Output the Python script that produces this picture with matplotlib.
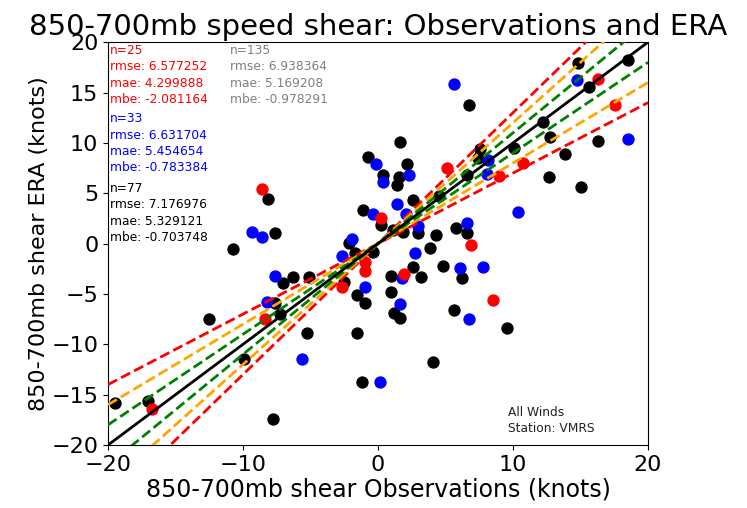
import numpy as np
import matplotlib
matplotlib.use("Agg")
import matplotlib.pyplot as plt

# Observed vs ERA 850-700mb speed shear (knots), split into three groups
red_obs = [-8.57, -0.96, -0.96, -2.64, -8.37, -16.76, 0.22, 5.09, 8.96, 10.76,
           16.32, 17.56, 1.95, 6.9, 8.54]
red_era = [5.38, -1.81, -2.70, -4.29, -7.49, -16.45, 2.50, 7.46, 6.70, 8.02,
           16.39, 13.74, -3.03, -0.15, -5.60]

blue_obs = [-9.33, -8.59, -0.15, -0.39, -1.95, 5.65, 0.39, 2.32, 1.39, 2.07,
            2.94, 6.61, 10.35, 8.17, 8.05, 14.76, 18.50, -7.63, -2.69, -0.96,
            -5.61, 0.15, -8.24, 2.74, 1.80, 1.63, 6.07, 7.80, 6.76]
blue_era = [1.11, 0.67, 7.89, 2.90, 0.45, 15.82, 6.13, 6.80, 3.89, 2.93,
            1.79, 2.00, 3.10, 8.28, 6.87, 16.22, 10.40, -3.19, -1.21, -4.29,
            -11.46, -13.77, -5.77, -0.91, -3.39, -6.03, -2.40, -2.36, -7.49]

black_obs = [-8.17, -7.63, -10.72, -7.01, -6.27, -5.09, -2.13, -1.70, -0.39, -2.52,
             -1.58, -0.96, -5.28, -1.58, -1.16, -7.80, -12.50, -7.63, -7.26, -9.90,
             -19.48, -17.06, -0.72, -1.09, 6.76, 1.63, 2.17, 0.39, 1.58, 1.39,
             2.57, 0.22, 1.87, 2.94, 4.27, 5.78, 6.61, 15.01, 12.69, 13.83,
             16.32, 12.74, 12.24, 10.10, 6.61, 7.43, 7.56, 4.54, 15.61, 14.84,
             18.50, 0.94, 0.94, 1.19, 1.63, 2.57, 3.16, 3.85, 4.84, 6.20,
             5.63, 4.10, 9.53, 1.09]
black_era = [4.38, 1.07, -0.58, -3.95, -3.29, -3.35, 0.02, -0.97, -0.81, -3.85,
             -5.11, -5.93, -8.85, -8.85, -13.77, -17.44, -7.46, -5.87, -6.99, -11.46,
             -15.85, -15.60, 8.61, 3.32, 13.81, 10.10, 7.89, 6.80, 6.57, 5.80,
             4.32, 1.84, 1.17, 1.01, 0.84, 1.57, 1.07, 5.63, 6.63, 8.88,
             10.20, 10.60, 12.08, 9.50, 6.80, 8.45, 9.35, 4.71, 15.50, 17.94,
             18.20, -3.19, -4.84, -6.87, -7.36, -2.30, -3.29, -0.48, -2.20, -3.39,
             -6.60, -11.73, -8.35, 1.34]

# Reference slopes: 1:1 line plus +/-10, 20, 30 % envelopes
envelope_slopes = [(0.9, 1.1, "green"), (0.8, 1.2, "orange"), (0.7, 1.3, "red")]

stats_red = ["n=25", "rmse: 6.577252", "mae: 4.299888", "mbe: -2.081164"]
stats_blue = ["n=33", "rmse: 6.631704", "mae: 5.454654", "mbe: -0.783384"]
stats_black = ["n=77", "rmse: 7.176976", "mae: 5.329121", "mbe: -0.703748"]
stats_all = ["n=135", "rmse: 6.938364", "mae: 5.169208", "mbe: -0.978291"]

fig = plt.figure(figsize=(7.47, 5.08), dpi=100)
ax = fig.add_axes([0.1446, 0.124, 0.7229, 0.793])

ax.scatter(black_obs, black_era, s=62, c="black", zorder=2)
ax.scatter(blue_obs, blue_era, s=62, c="blue", zorder=2)
ax.scatter(red_obs, red_era, s=62, c="red", zorder=2)

xline = np.array([-20.0, 20.0])
for lo, hi, col in envelope_slopes[::-1]:
    ax.plot(xline, lo * xline, "--", color=col, lw=2, zorder=3)
    ax.plot(xline, hi * xline, "--", color=col, lw=2, zorder=3)
ax.plot(xline, xline, "-", color="black", lw=2, zorder=4)

ax.set_xlim(-20, 20)
ax.set_ylim(-20, 20)
ax.set_xticks([-20, -10, 0, 10, 20])
ax.set_yticks([-20, -15, -10, -5, 0, 5, 10, 15, 20])
ax.tick_params(labelsize=16)

ax.set_title("850-700mb speed shear: Observations and ERA", fontsize=21, pad=5)
ax.set_xlabel("850-700mb shear Observations (knots)", fontsize=17, labelpad=2)
ax.set_ylabel("850-700mb shear ERA (knots)", fontsize=16, labelpad=2)

def block(x, y, lines, color):
    ax.text(x, y, "\n".join(lines), transform=ax.transAxes, fontsize=8.8,
            color=color, va="top", ha="left", linespacing=1.33)

block(0.004, 0.995, stats_red, "red")
block(0.004, 0.826, stats_blue, "blue")
block(0.004, 0.653, stats_black, "black")
block(0.226, 0.995, stats_all, "grey")

ax.text(0.741, 0.025, "All Winds\nStation: VMRS", transform=ax.transAxes,
        fontsize=8.8, color="#222222", va="bottom", ha="left", linespacing=1.3)

fig.savefig("out.png", dpi=100)
